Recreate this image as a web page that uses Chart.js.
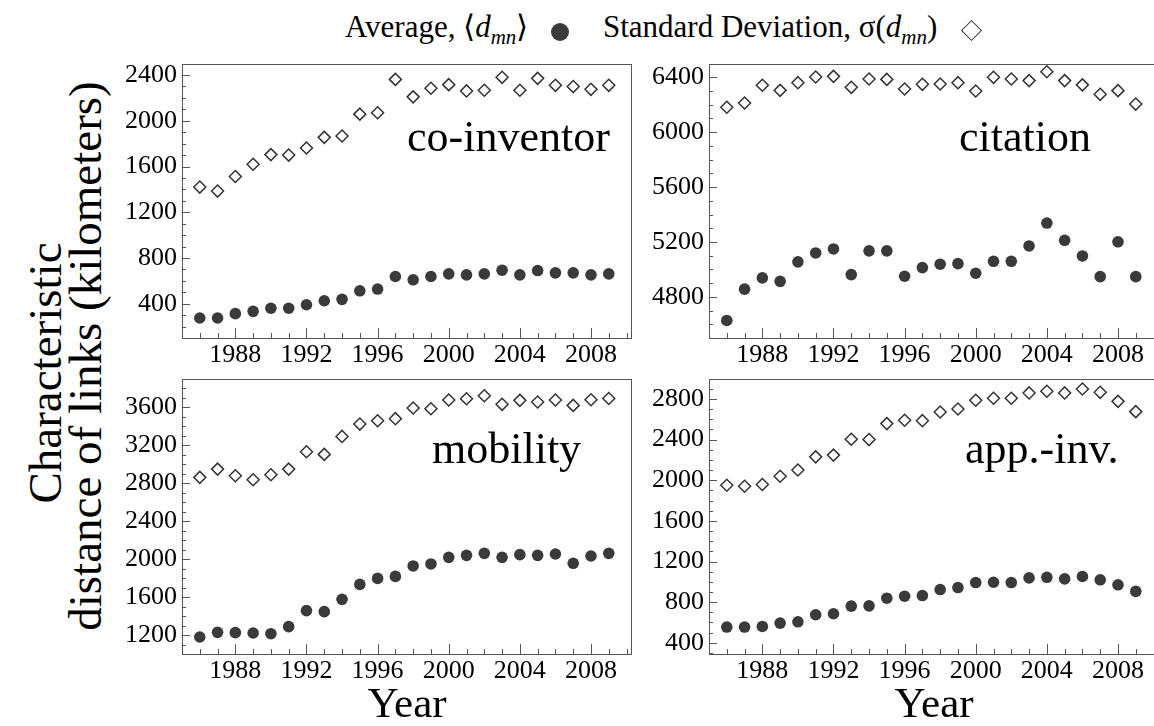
<!DOCTYPE html>
<html>
<head>
<meta charset="utf-8">
<script src="https://cdn.jsdelivr.net/npm/chart.js@4.4.1/dist/chart.umd.min.js"></script>
<style>
  body { margin: 0; width: 1154px; height: 726px; overflow: hidden; background: #fff; position: relative;
         font-family: "Liberation Serif", "Times New Roman", serif; color: #000; }
  canvas { position: absolute; }
  .txt { position: absolute; white-space: nowrap; line-height: 1; }
  .rot { transform: translate(-50%, -50%) rotate(-90deg); font-size: 47px; }
  .year { font-size: 43px; transform: translateX(-50%); top: 681px; }
  .leg { font-size: 31px; top: 11px; }
  .leg sub { font-size: 21px; font-style: italic; vertical-align: -7px; }
  .dot { position: absolute; width: 18px; height: 18px; border-radius: 50%; background: #3a3a3a; }
  .dia { position: absolute; width: 13px; height: 13px; border: 1.5px solid #333; transform: rotate(45deg); background: #fff; }
</style>
</head>
<body>

<div class="txt leg" style="left:345px">Average, ⟨<i>d</i><sub>mn</sub>⟩</div>
<div class="dot" style="left:551px; top:23px"></div>
<div class="txt leg" style="left:603px">Standard Deviation, σ(<i>d</i><sub>mn</sub>)</div>
<div class="dia" style="left:964px; top:23px"></div>

<div class="txt rot" style="left:45px; top:373px">Characteristic</div>
<div class="txt rot" style="left:85px; top:356px">distance of links (kilometers)</div>

<canvas id="coinv" width="541" height="335" style="left:102px; top:43px"></canvas>
<canvas id="cit" width="541" height="335" style="left:629px; top:43px"></canvas>
<canvas id="mob" width="541" height="336" style="left:102px; top:358px"></canvas>
<canvas id="app" width="541" height="336" style="left:629px; top:358px"></canvas>

<div class="txt year" style="left:407px">Year</div>
<div class="txt year" style="left:934px">Year</div>

<script>
Chart.defaults.font.family = '"Liberation Serif", "Times New Roman", serif';

const years = [1986, 1987, 1988, 1989, 1990, 1991, 1992, 1993, 1994, 1995, 1996, 1997,
               1998, 1999, 2000, 2001, 2002, 2003, 2004, 2005, 2006, 2007, 2008, 2009];
const xTicks = [1988, 1992, 1996, 2000, 2004, 2008];

// co-inventor
const coInvAvg = [275, 275, 313, 333, 360, 360, 391, 426, 438, 513, 528, 638,
                  609, 638, 661, 652, 661, 693, 652, 690, 670, 670, 652, 661];
const coInvSd = [1420, 1385, 1513, 1620, 1704, 1700, 1762, 1855, 1867, 2058, 2070, 2362,
                 2209, 2284, 2316, 2261, 2267, 2380, 2267, 2371, 2310, 2299, 2275, 2310];
const coInvTicks = [400, 800, 1200, 1600, 2000, 2400];

// citation
const citAvg = [4628, 4856, 4938, 4913, 5055, 5120, 5149, 4962, 5135, 5135, 4950, 5013,
                5038, 5042, 4972, 5059, 5059, 5171, 5338, 5212, 5098, 4947, 5201, 4947];
const citSd = [6182, 6213, 6342, 6305, 6361, 6402, 6407, 6327, 6388, 6385, 6315, 6349,
               6351, 6361, 6300, 6400, 6388, 6376, 6441, 6376, 6345, 6276, 6303, 6205];
const citTicks = [4800, 5200, 5600, 6000, 6400];

// mobility
const mobAvg = [1179, 1228, 1225, 1221, 1214, 1288, 1457, 1446, 1576, 1733, 1796, 1817,
                1927, 1948, 2018, 2039, 2060, 2018, 2046, 2039, 2053, 1955, 2032, 2060];
const mobSd = [2860, 2947, 2877, 2835, 2888, 2947, 3130, 3102, 3291, 3421, 3456, 3478,
               3590, 3583, 3674, 3688, 3720, 3629, 3671, 3653, 3674, 3618, 3677, 3691];
const mobTicks = [1200, 1600, 2000, 2400, 2800, 3200, 3600];

// applicant-inventor
const appAvg = [555, 555, 561, 594, 607, 676, 686, 761, 764, 839, 859, 865,
                924, 944, 993, 996, 993, 1039, 1045, 1029, 1053, 1020, 971, 906];
const appSd = [1951, 1941, 1958, 2039, 2101, 2230, 2247, 2403, 2400, 2557, 2590, 2586,
               2671, 2701, 2787, 2807, 2807, 2859, 2875, 2859, 2898, 2865, 2776, 2675];
const appTicks = [400, 800, 1200, 1600, 2000, 2400, 2800];

// box, inward ticks and panel name
const framePlugin = {
  id: 'frame',
  afterDraw(chart, args, opts) {
    const ctx = chart.ctx, a = chart.chartArea;
    const xs = chart.scales.x, ys = chart.scales.y;
    ctx.save();
    ctx.strokeStyle = '#555';
    ctx.lineWidth = 1;
    ctx.strokeRect(Math.round(a.left) + 0.5, Math.round(a.top) + 0.5, Math.round(a.width), Math.round(a.height));
    ctx.beginPath();
    for (let yr = Math.ceil(xs.min); yr <= xs.max; yr++) {
      const px = Math.round(xs.getPixelForValue(yr)) + 0.5;
      const len = yr % 4 === 0 ? 10 : 5;
      ctx.moveTo(px, a.bottom);
      ctx.lineTo(px, a.bottom - len);
    }
    for (let v = Math.ceil(ys.min / 100) * 100; v <= ys.max; v += 100) {
      const py = Math.round(ys.getPixelForValue(v)) + 0.5;
      const len = v % 400 === 0 ? 8 : 4;
      ctx.moveTo(a.left, py);
      ctx.lineTo(a.left + len, py);
    }
    ctx.stroke();
    ctx.font = '44px "Liberation Serif"';
    ctx.fillStyle = '#000';
    ctx.textAlign = 'left';
    ctx.textBaseline = 'alphabetic';
    ctx.fillText(opts.label, a.left + opts.dx, a.top + opts.dy);
    ctx.restore();
  }
};

function makePanel(id, label, dx, dy, avg, sd, yMin, yMax, yTicks) {
  return new Chart(document.getElementById(id), {
    type: 'scatter',
    data: {
      datasets: [{
        label: 'Average',
        data: years.map((yr, i) => ({ x: yr, y: avg[i] })),
        pointStyle: 'circle',
        pointRadius: 5.8,
        backgroundColor: '#3a3a3a',
        borderColor: '#3a3a3a',
        borderWidth: 0,
        clip: false
      }, {
        label: 'Standard Deviation',
        data: years.map((yr, i) => ({ x: yr, y: sd[i] })),
        pointStyle: 'rectRot',
        pointRadius: 6,
        backgroundColor: '#fff',
        borderColor: '#333',
        borderWidth: 1.5,
        clip: false
      }]
    },
    options: {
      responsive: false,
      animation: false,
      devicePixelRatio: 1,
      events: [],
      layout: { padding: { top: 20, right: 12, left: 0, bottom: 0 } },
      plugins: {
        legend: { display: false },
        tooltip: { enabled: false },
        frame: { label: label, dx: dx, dy: dy }
      },
      scales: {
        x: {
          type: 'linear',
          min: 1985,
          max: 2010.25,
          afterBuildTicks: s => { s.ticks = xTicks.map(v => ({ value: v })); },
          afterFit: s => { s.height = 40; },
          grid: { display: false, drawTicks: false },
          border: { display: false },
          ticks: { font: { size: 26 }, color: '#000', padding: 2, maxRotation: 0, autoSkip: false,
                   callback: v => String(v) }
        },
        y: {
          min: yMin,
          max: yMax,
          afterBuildTicks: s => { s.ticks = yTicks.map(v => ({ value: v })); },
          afterFit: s => { s.width = 80; },
          grid: { display: false, drawTicks: false },
          border: { display: false },
          ticks: { font: { size: 26 }, color: '#000', padding: 5, callback: v => String(v) }
        }
      }
    },
    plugins: [framePlugin]
  });
}

makePanel('coinv', 'co-inventor', 225, 87, coInvAvg, coInvSd, 100, 2500, coInvTicks);
makePanel('cit', 'citation', 250, 87, citAvg, citSd, 4500, 6500, citTicks);
makePanel('mob', 'mobility', 250, 84, mobAvg, mobSd, 1000, 3900, mobTicks);
makePanel('app', 'app.-inv.', 256, 84, appAvg, appSd, 290, 3000, appTicks);
</script>
</body>
</html>
